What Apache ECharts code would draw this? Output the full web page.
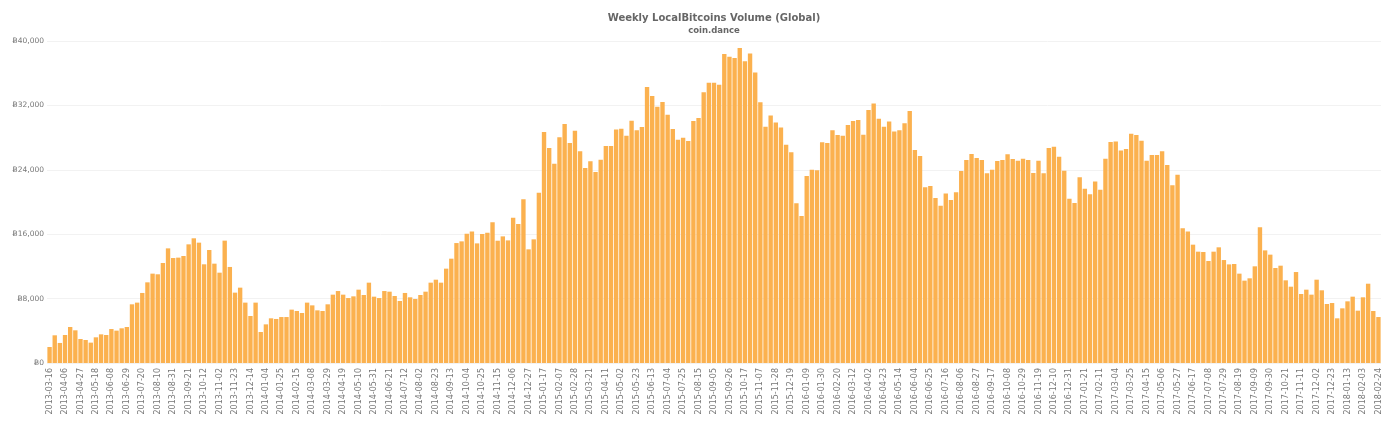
<!DOCTYPE html>
<html><head><meta charset="utf-8">
<style>html,body{margin:0;padding:0;background:#fff}#c{width:1392px;height:424px}</style>
<script src="https://cdn.jsdelivr.net/npm/echarts@6/dist/echarts.min.js"></script>
</head><body><div id="c"></div>
<script>
const titleText = 'Weekly LocalBitcoins Volume (Global)';
const subtitleText = 'coin.dance';
const firstWeek = '2013-03-16';
const volume2013 = [1990,3440,2490,3480,4470,4060,2980,2860,2530,3190,3560,3480,4220,4020,4310,4470,7290,7500,8700,10020,11100,11020,12420,14240,13040,13090,13290,14740,15490,14950,12260,14040,12340,11220,15200,11930,8740,9360,7500,5840,7500];
const volume2014 = [3850,4800,5550,5470,5710,5710,6630,6460,6210,7500,7160,6540,6460,7290,8490,8940,8490,8070,8280,9110,8450,9980,8240,8070,8940,8860,8320,7700,8700,8160,7950,8450,8860,9980,10350,9980,11720,12960,14900,15110,16060,16350,14860,16020,16190,17470,15190,15730,15230,18050,17260,20330,14120];
const volume2015 = [15360,21150,28690,26700,24760,28030,29680,27320,28860,26290,24220,25050,23720,25250,26950,26950,29020,29100,28230,30100,28900,29310,34280,33160,31840,32420,30840,29060,27740,27990,27570,30060,30430,33620,34820,34820,34570,38380,38050,37880,39120,37470,38460,36100,32380,29350,30760,29890,29270,27120,26170,19830,18260];
const volume2016 = [23230,24010,23930,27410,27320,28900,28320,28230,29560,30060,30180,28360,31420,32250,30350,29350,30010,28770,28900,29770,31300,26450,25710,21820,21980,20490,19540,21070,20240,21200,23850,25210,25960,25460,25210,23560,24010,25090,25210,25920,25340,25130,25380,25210,23600,25130,23560,26700,26870,25630,23890,20410,19870];
const volume2017 = [23060,21650,20950,22560,21530,25380,27450,27530,26410,26580,28480,28320,27610,25130,25830,25830,26290,24590,22070,23390,16730,16350,14700,13830,13790,12670,13830,14370,12790,12250,12300,11100,10230,10520,12010,16850,13990,13460,11800,12090,10270,9480,11300,8570,9110,8490,10350,9030,7330,7450,5550,6790];
const volume2018 = [7660,8240,6500,8160,9850,6460,5710];
const values = [].concat(volume2013, volume2014, volume2015, volume2016, volume2017, volume2018);
const start = Date.parse(firstWeek + 'T00:00:00Z');
const categories = values.map((_, i) => new Date(start + i * 7 * 86400000).toISOString().slice(0, 10));
const fontName = '"DejaVu Sans", sans-serif';
const chart = echarts.init(document.getElementById('c'), null, {renderer: 'canvas'});
chart.setOption({
  animation: false,
  backgroundColor: '#fff',
  title: {
    text: titleText, subtext: subtitleText, left: 709, top: 8, textAlign: 'center', itemGap: 3,
    textStyle: {fontFamily: fontName, fontSize: 10, fontWeight: 'bold', color: '#666'},
    subtextStyle: {fontFamily: fontName, fontSize: 8.5, fontWeight: 'bold', color: '#666'}
  },
  grid: {left: 47, right: 11, top: 41, bottom: 61, containLabel: false},
  xAxis: {
    type: 'category', data: categories,
    axisLine: {show: false}, axisTick: {show: false},
    axisLabel: {interval: 2, rotate: 90, fontFamily: fontName, fontSize: 8, color: '#777', margin: 5}
  },
  yAxis: {
    type: 'value', min: 0, max: 40000, interval: 8000,
    axisLine: {show: false}, axisTick: {show: false},
    splitLine: {lineStyle: {color: '#f2f2f2', width: 1}},
    axisLabel: {fontFamily: fontName, fontSize: 7.5, color: '#777', margin: 3,
      formatter: v => 'Ƀ' + v.toLocaleString('en-US')}
  },
  series: [{type: 'bar', data: values, barCategoryGap: '15%', itemStyle: {color: '#fbb14f'}}]
});
</script></body></html>
